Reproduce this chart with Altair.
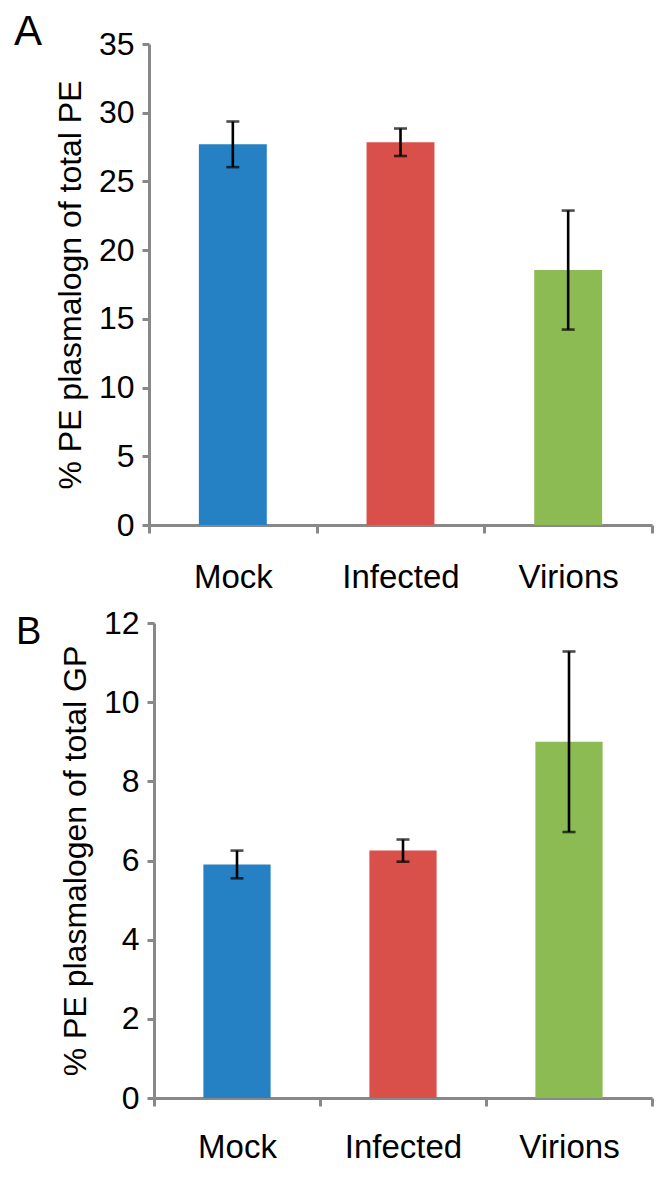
import altair as alt
import pandas as pd

categories = ["Mock", "Infected", "Virions"]
colors = ["#2581C4", "#D9504A", "#8DBB53"]

a_values = [27.7, 27.85, 18.55]
a_errors = [1.66, 1.0, 4.33]
a_ticks = [0, 5, 10, 15, 20, 25, 30, 35]
a_title = "% PE plasmalogn of total PE"

b_values = [5.9, 6.25, 9.0]
b_errors = [0.35, 0.28, 2.28]
b_ticks = [0, 2, 4, 6, 8, 10, 12]
b_title = "% PE plasmalogen of total GP"

FONT = "Liberation Sans"
GRAY = "#888888"
WIDTH = 503


def panel(values, errors, ticks, title, letter, height, shift, letter_x, letter_y,
          letter_size, label_pad):
    df = pd.DataFrame({
        "cat": categories,
        "val": values,
        "lo": [v - e for v, e in zip(values, errors)],
        "hi": [v + e for v, e in zip(values, errors)],
    })
    base = alt.Chart(df)
    xscale = alt.Scale(paddingInner=0, paddingOuter=0, range=[shift, WIDTH])
    x = alt.X(
        "cat:N", sort=categories, scale=xscale,
        axis=alt.Axis(
            title=None, labelAngle=0, tickBand="extent",
            domainColor=GRAY, domainWidth=3, tickColor=GRAY, tickWidth=3, tickSize=8,
            labelFont=FONT, labelFontSize=33, labelColor="black", labelPadding=label_pad,
        ),
    )
    yscale = alt.Scale(domain=[ticks[0], ticks[-1]], nice=False)
    yaxis = alt.Axis(
        values=ticks, grid=False, title=title, offset=-shift,
        domainColor=GRAY, domainWidth=3, tickColor=GRAY, tickWidth=3, tickSize=7,
        labelFont=FONT, labelFontSize=32, labelColor="black", labelPadding=8,
        titleFont=FONT, titleFontSize=32, titleFontWeight="normal", titleColor="black",
        titlePadding=11,
    )
    bars = base.mark_bar(width=alt.RelativeBandSize(0.405)).encode(
        x=x,
        y=alt.Y("val:Q", scale=yscale, axis=yaxis),
        color=alt.Color("cat:N", scale=alt.Scale(domain=categories, range=colors), legend=None),
    )
    rules = base.mark_rule(color="black", strokeWidth=2.6).encode(
        x=alt.X("cat:N", sort=categories), y="lo:Q", y2="hi:Q"
    )
    cap_lo = base.mark_tick(color="black", thickness=2.6, size=13).encode(
        x=alt.X("cat:N", sort=categories), y="lo:Q"
    )
    cap_hi = base.mark_tick(color="black", thickness=2.6, size=13).encode(
        x=alt.X("cat:N", sort=categories), y="hi:Q"
    )
    lab = alt.Chart(pd.DataFrame({"t": [letter]})).mark_text(
        font=FONT, fontSize=letter_size, align="left", baseline="alphabetic", color="black"
    ).encode(text="t:N", x=alt.value(letter_x), y=alt.value(letter_y))
    return alt.layer(bars, rules, cap_lo, cap_hi, lab).properties(width=WIDTH, height=height)


chart_a = panel(a_values, a_errors, a_ticks, a_title, "A", 481, 0, -135, 1, 42, 28)
chart_b = panel(b_values, b_errors, b_ticks, b_title, "B", 475, 5, -133, 21, 38, 25)

chart = alt.vconcat(chart_a, chart_b, spacing=13).properties(
    padding={"left": 6, "top": 3, "right": 0, "bottom": 1}
).configure_view(stroke=None)

chart.save("out.html", embed_options={"renderer": "svg", "actions": False})
